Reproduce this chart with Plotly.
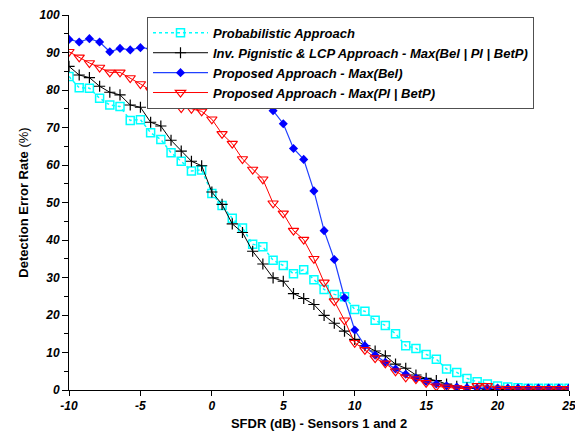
import plotly.graph_objects as go

sfdr_db = [-10.0, -9.286, -8.571, -7.857, -7.143, -6.429, -5.714, -5.0, -4.286, -3.571,
           -2.857, -2.143, -1.429, -0.714, 0.0, 0.714, 1.429, 2.143, 2.857, 3.571,
           4.286, 5.0, 5.714, 6.429, 7.143, 7.857, 8.571, 9.286, 10.0, 10.714,
           11.429, 12.143, 12.857, 13.571, 14.286, 15.0, 15.714, 16.429, 17.143, 17.857,
           18.571, 19.286, 20.0, 20.714, 21.429, 22.143, 22.857, 23.571, 24.286, 25.0]

probabilistic = [83.6, 80.6, 80.5, 77.8, 76.0, 75.6, 71.9, 72.1, 68.6, 66.8,
                 63.3, 61.0, 58.4, 58.7, 52.4, 49.2, 45.8, 43.2, 38.9, 38.2,
                 34.6, 33.2, 31.0, 32.1, 29.4, 26.8, 25.5, 24.9, 21.5, 21.0,
                 18.6, 17.2, 15.0, 11.8, 11.1, 9.5, 8.2, 5.6, 4.7, 3.1,
                 2.2, 1.6, 1.1, 0.8, 0.6, 0.5, 0.5, 0.5, 0.5, 0.5]

inv_pignistic = [86.3, 84.0, 83.3, 81.0, 79.4, 78.7, 76.0, 75.4, 71.4, 70.4,
                 66.6, 63.7, 61.0, 59.8, 52.8, 49.5, 44.3, 42.0, 37.0, 33.6,
                 29.9, 29.0, 25.7, 24.4, 22.8, 19.9, 17.8, 15.7, 13.5, 11.8,
                 10.4, 9.1, 6.9, 5.8, 4.0, 3.1, 2.5, 1.6, 1.0, 0.6,
                 0.4, 0.2, 0.1, 0, 0, 0, 0, 0, 0, 0]

max_bel = [93.5, 92.8, 93.7, 92.8, 90.2, 91.1, 90.7, 91.3, 91.0, 90.6,
           90.2, 89.6, 89.0, 88.2, 87.2, 85.8, 84.2, 82.2, 80.0, 77.5,
           74.5, 71.0, 64.4, 61.5, 53.1, 42.5, 34.8, 24.6, 16.0, 11.8,
           9.3, 7.4, 5.6, 4.2, 3.2, 2.3, 1.6, 1.1, 0.8, 0.6,
           0.5, 0.5, 0.5, 0.5, 0.5, 0.5, 0.5, 0.5, 0.5, 0.5]

max_pl_betp = [90.2, 88.7, 87.2, 86.0, 84.7, 84.7, 83.2, 81.6, 79.9, 78.2,
               76.4, 75.2, 75.0, 74.3, 72.2, 68.3, 65.7, 61.6, 58.8, 56.2,
               49.8, 47.1, 42.5, 40.1, 35.0, 28.7, 23.7, 18.6, 12.6, 10.7,
               8.5, 7.1, 5.0, 3.4, 2.9, 1.9, 1.0, 0.7, 0.5, 0.3,
               1.1, 1.1, 0.4, 0.3, 0.3, 0.3, 0.3, 0.3, 0.3, 0.3]

x_tick_vals = [-10, -5, 0, 5, 10, 15, 20, 25]
x_tick_text = ["-10", "-5", "0", "5", "10", "15", "20", "25"]
y_tick_vals = [0, 10, 20, 30, 40, 50, 60, 70, 80, 90, 100]

names = ["Probabilistic Approach",
         "Inv. Pignistic & LCP Approach - Max(Bel | Pl | BetP)",
         "Proposed Approach - Max(Bel)",
         "Proposed Approach - Max(Pl | BetP)"]

FONT = "Liberation Sans, Arial, sans-serif"

fig = go.Figure()
fig.add_trace(go.Scatter(
    x=sfdr_db, y=probabilistic, name=names[0], mode="lines+markers",
    line=dict(color="#00FFFF", width=1.5, dash="dot"),
    marker=dict(symbol="square-open", size=8, color="#00FFFF", line=dict(width=1.5, color="#00FFFF"))))
fig.add_trace(go.Scatter(
    x=sfdr_db, y=inv_pignistic, name=names[1], mode="lines+markers",
    line=dict(color="#000000", width=1),
    marker=dict(symbol="cross-thin", size=8, color="#000000", line=dict(width=1.2, color="#000000"))))
fig.add_trace(go.Scatter(
    x=sfdr_db, y=max_bel, name=names[2], mode="lines+markers",
    line=dict(color="#2040FF", width=1.2),
    marker=dict(symbol="diamond", size=7, color="#0000FF", line=dict(width=0))))
fig.add_trace(go.Scatter(
    x=sfdr_db, y=max_pl_betp, name=names[3], mode="lines+markers",
    line=dict(color="#FF0000", width=1),
    marker=dict(symbol="triangle-down-open", size=9, color="#FF0000", line=dict(width=1.2, color="#FF0000"))))

tickfont = dict(family=FONT, size=12, color="#000000", weight="bold", style="italic")

# the page body adds an 8 px offset, so margins are compensated
fig.update_layout(
    width=583, height=438,
    margin=dict(l=61, r=22, t=7, b=56),
    paper_bgcolor="white", plot_bgcolor="white",
    font=dict(family=FONT, color="#000000"),
    showlegend=True,
    legend=dict(
        x=0.156, y=0.995, xanchor="left", yanchor="top",
        bgcolor="white", bordercolor="#505050", borderwidth=1,
        font=dict(family=FONT, size=13, color="#000000", weight="bold", style="italic"),
        itemwidth=55, tracegroupgap=0,
    ),
    xaxis=dict(
        range=[-10, 25], tickvals=x_tick_vals, ticktext=x_tick_text, automargin=False,
        showgrid=False, zeroline=False, showline=True, linecolor="#000000", linewidth=1,
        ticks="outside", ticklen=5, tickcolor="#000000", tickfont=tickfont,
        title=dict(text="<b>SFDR (dB) - Sensors 1 and 2</b>",
                   font=dict(family=FONT, size=13, color="#000000"), standoff=6),
    ),
    yaxis=dict(
        range=[0, 100], tickvals=y_tick_vals, automargin=False,
        showgrid=False, zeroline=False, showline=True, linecolor="#000000", linewidth=1,
        ticks="outside", ticklen=6, tickcolor="#000000", tickfont=tickfont,
        minor=dict(dtick=5, ticks="outside", ticklen=4, tickcolor="#000000", showgrid=False),
        title=dict(text="<b>Detection Error Rate</b> (%)",
                   font=dict(family=FONT, size=13, color="#000000"), standoff=8),
    ),
)

fig.write_html("out.html")
